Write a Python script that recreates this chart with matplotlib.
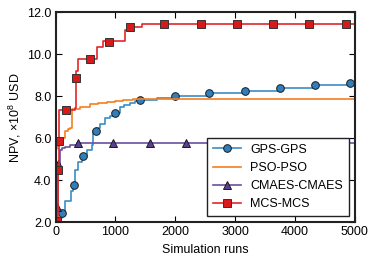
import matplotlib
matplotlib.use("Agg")
import matplotlib.pyplot as plt
from matplotlib.lines import Line2D

# step curves (simulation runs, NPV x1e8 USD)
gps_x = [60, 75, 110, 150, 260, 295, 320, 380, 444, 517, 600, 628, 700, 738, 822, 900, 988,
         1072, 1150, 1238, 1320, 1405, 1700, 1988, 2572, 3160, 3750, 4338, 5000]
gps_y = [1.8, 2.2, 2.45, 3.0, 3.5, 3.8, 4.5, 4.85, 5.17, 5.45, 5.7, 6.35, 6.5, 6.7, 6.95, 7.05, 7.2,
         7.5, 7.6, 7.7, 7.78, 7.83, 7.92, 8.02, 8.15, 8.28, 8.4, 8.52, 8.65]
gps_mx = [110, 305, 450, 667, 988, 1417, 1988, 2572, 3160, 3750, 4338, 4928]
gps_my = [2.45, 3.8, 5.17, 6.33, 7.2, 7.82, 8.02, 8.15, 8.28, 8.4, 8.52, 8.63]

pso_x = [0, 17, 60, 100, 155, 200, 238, 272, 300, 400, 572, 700, 850, 1000, 1127, 1300, 1405, 5000]
pso_y = [5.5, 5.65, 5.8, 6.0, 6.33, 6.45, 6.5, 7.38, 7.42, 7.5, 7.62, 7.68, 7.73, 7.8, 7.85, 7.88, 7.89, 7.89]

cma_x = [0, 27, 45, 72, 110, 155, 238, 350, 5000]
cma_y = [2.0, 2.7, 4.8, 5.45, 5.55, 5.6, 5.67, 5.77, 5.79]
cma_mx = [27, 45, 377, 960, 1572, 2172, 2780, 3390, 3990, 4600]
cma_my = [2.73, 4.8, 5.77, 5.77, 5.77, 5.78, 5.78, 5.79, 5.79, 5.79]

mcs_x = [0, 40, 50, 58, 330, 340, 370, 650, 683, 790, 1040, 1155, 1200, 1450, 5000]
mcs_y = [2.0, 4.5, 5.9, 7.35, 7.45, 9.2, 9.78, 9.78, 10.35, 10.62, 10.62, 11.15, 11.32, 11.47, 11.47]
mcs_mx = [27, 45, 55, 177, 343, 567, 893, 1250, 1810, 2425, 3030, 3640, 4245, 4855]
mcs_my = [2.05, 4.5, 5.88, 7.35, 8.9, 9.78, 10.6, 11.32, 11.47, 11.47, 11.47, 11.47, 11.47, 11.47]

labels = ["GPS-GPS", "PSO-PSO", "CMAES-CMAES", "MCS-MCS"]
colors = ["#3a8cc4", "#f57f20", "#6b4ea0", "#e0262a"]
marker_fill = ["#2f7fbf", None, "#5a3e93", "#d7191c"]

plt.rcParams["font.family"] = ["Liberation Sans", "DejaVu Sans"]
plt.rcParams["font.size"] = 9
plt.rcParams["mathtext.fontset"] = "custom"
plt.rcParams["mathtext.rm"] = "Liberation Sans"
plt.rcParams["mathtext.it"] = "Liberation Sans:italic"

fig = plt.figure(figsize=(3.74, 2.62), dpi=100)
ax = fig.add_axes([0.149, 0.1515, 0.799, 0.801])

lw = 1.2
ms = 5.5
ax.plot(gps_x, gps_y, drawstyle="steps-post", color=colors[0], lw=lw)
ax.plot(gps_mx, gps_my, ls="none", marker="o", ms=ms, mfc=marker_fill[0], mec="#1a1a1a", mew=0.7)
ax.plot(pso_x, pso_y, drawstyle="steps-post", color=colors[1], lw=lw)
ax.plot(cma_x, cma_y, drawstyle="steps-post", color=colors[2], lw=lw)
ax.plot(cma_mx, cma_my, ls="none", marker="^", ms=ms, mfc=marker_fill[2], mec="#1a1a1a", mew=0.7)
ax.plot(mcs_x, mcs_y, drawstyle="steps-post", color=colors[3], lw=lw)
ax.plot(mcs_mx, mcs_my, ls="none", marker="s", ms=ms, mfc=marker_fill[3], mec="#333333", mew=0.7)

ax.set_xlim(0, 5000)
ax.set_ylim(2, 12)
ax.set_xticks([0, 1000, 2000, 3000, 4000, 5000])
ax.set_yticks([2, 4, 6, 8, 10, 12])
ax.set_yticklabels(["2.0", "4.0", "6.0", "8.0", "10.0", "12.0"])
ax.tick_params(direction="in", top=True, right=True, length=4, width=0.8, pad=3)
for s in ax.spines.values():
    s.set_linewidth(1.5)
    s.set_color("#222222")

ax.set_xlabel("Simulation runs", labelpad=4)
ax.set_ylabel(r"NPV, $\times 10^8$ USD", labelpad=3)

handles = [
    Line2D([], [], color=colors[0], lw=lw, marker="o", ms=ms, mfc=marker_fill[0], mec="#1a1a1a", mew=0.7),
    Line2D([], [], color=colors[1], lw=lw),
    Line2D([], [], color=colors[2], lw=lw, marker="^", ms=ms, mfc=marker_fill[2], mec="#1a1a1a", mew=0.7),
    Line2D([], [], color=colors[3], lw=lw, marker="s", ms=ms, mfc=marker_fill[3], mec="#333333", mew=0.7),
]
leg = ax.legend(handles, labels, loc="lower right", bbox_to_anchor=(0.98, 0.03), borderaxespad=0,
                fancybox=False, framealpha=1, edgecolor="#222222", handlelength=2.3,
                labelspacing=0.5, handletextpad=0.7, borderpad=0.45)
leg.get_frame().set_linewidth(1.0)

fig.savefig("out.png", dpi=100)
